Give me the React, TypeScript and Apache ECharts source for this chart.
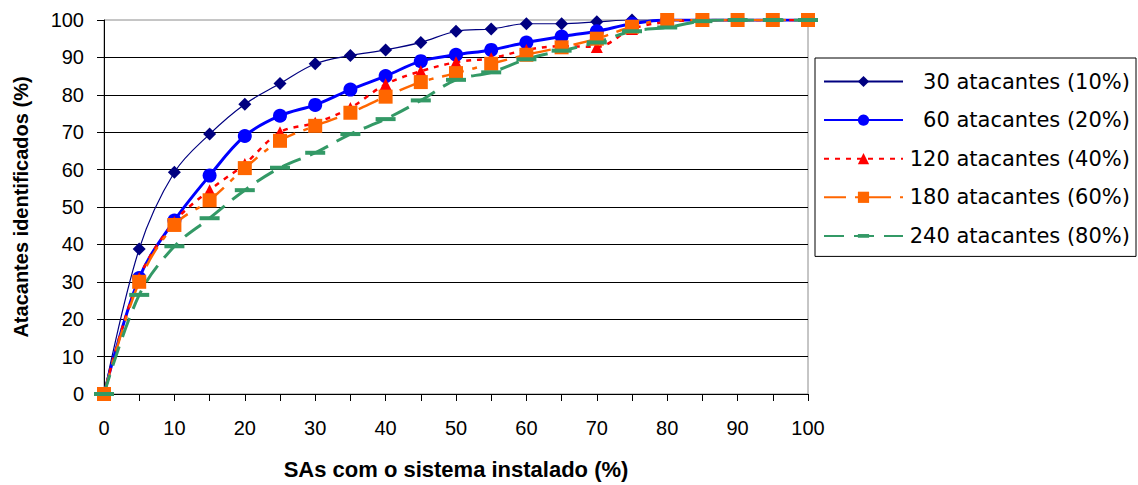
import React, { useEffect, useRef } from "react";
import * as echarts from "echarts";

// Share of SAs with the system installed (%)
const installedPct = [0, 5, 10, 15, 20, 25, 30, 35, 40, 45, 50, 55, 60, 65, 70, 75, 80, 85, 90, 95, 100];

// Identified attackers (%) per scenario
const attackers30 = [0, 38.8, 59.3, 69.5, 77.5, 83, 88.3, 90.5, 92, 94, 97, 97.6, 99, 99, 99.5, 100, 100, 100, 100, 100, 100];
const attackers60 = [0, 31, 46.4, 58.4, 69, 74.4, 77.3, 81.4, 85, 89, 90.7, 92, 94, 95.6, 97, 99, 100, 100, 100, 100, 100];
const attackers120 = [0, 31, 46, 54.5, 61.5, 70, 72.5, 76.5, 82.8, 86.3, 88.7, 89.8, 92, 93, 92.8, 97.6, 99.5, 100, 100, 100, 100];
const attackers180 = [0, 30, 45.2, 51.8, 60.4, 67.7, 71.7, 75.2, 79.5, 83.4, 85.8, 88.3, 90.7, 92.7, 95, 98.2, 100, 100, 100, 100, 100];
const attackers240 = [0, 26.5, 39.5, 47, 54.5, 60.5, 64.5, 69.5, 73.5, 78.5, 84, 86, 89.5, 91.8, 94, 97, 98, 99.7, 100, 100, 100];

const seriesNames = [
  "30 atacantes (10%)",
  "60 atacantes (20%)",
  "120 atacantes (40%)",
  "180 atacantes (60%)",
  "240 atacantes (80%)",
];

const yTicks = { min: 0, max: 100, interval: 10 };
const xTicks = { min: 0, max: 100, interval: 5, labelEvery: 10 };

const pairs = (ys: number[]) => installedPct.map((x, i) => [x, ys[i]]);

const FONT = "'Liberation Sans', Arial, sans-serif";

// flat horizontal bar ("dash") marker; the lone move-tos pad its box so the
// bar keeps its flat shape when squeezed into the square legend slot
const DASH_MARKER = "path://M0,0M0,4H20V8H0ZM20,12";

export default function App() {
  const ref = useRef<HTMLDivElement>(null);

  useEffect(() => {
    if (!ref.current) return;
    const chart = echarts.init(ref.current, undefined, { renderer: "svg" });

    const smooth = 0.35;

    chart.setOption({
      animation: false,
      backgroundColor: "#ffffff",
      grid: {
        left: 104,
        right: 330,
        top: 20,
        bottom: 88,
        show: true,
        borderColor: "#8c8c8c",
        borderWidth: 1,
        backgroundColor: "transparent",
      },
      xAxis: {
        type: "value",
        min: xTicks.min,
        max: xTicks.max,
        interval: xTicks.interval,
        name: "SAs com o sistema instalado (%)",
        nameLocation: "middle",
        nameGap: 64,
        nameTextStyle: { fontFamily: FONT, fontWeight: "bold", fontSize: 22, color: "#000" },
        axisLine: { show: true, onZero: false, lineStyle: { color: "#000", width: 1 } },
        axisTick: { show: true, length: 7, lineStyle: { color: "#000" } },
        axisLabel: {
          margin: 24,
          fontFamily: FONT,
          fontSize: 20,
          color: "#000",
          formatter: (v: number) => (v % xTicks.labelEvery === 0 ? String(v) : ""),
        },
        splitLine: { show: false },
      },
      yAxis: {
        type: "value",
        min: yTicks.min,
        max: yTicks.max,
        interval: yTicks.interval,
        name: "Atacantes identificados (%)",
        nameLocation: "middle",
        nameGap: 73,
        nameTextStyle: { fontFamily: FONT, fontWeight: "bold", fontSize: 20, color: "#000" },
        axisLine: { show: true, onZero: false, lineStyle: { color: "#000", width: 1 } },
        axisTick: { show: true, length: 7, lineStyle: { color: "#000" } },
        axisLabel: { margin: 20, fontFamily: FONT, fontSize: 20, color: "#000" },
        splitLine: { show: true, showMaxLine: false, lineStyle: { color: "#000", width: 1 } },
      },
      legend: {
        left: 815,
        top: 58,
        orient: "vertical",
        backgroundColor: "#ffffff",
        borderColor: "#000",
        borderWidth: 1,
        padding: [13, 6, 10, 8],
        itemWidth: 79,
        itemHeight: 14,
        itemGap: 17.6,
        itemTextGap: 4,
        data: seriesNames,
        formatter: (name: string) => `{t|${name}}`,
        textStyle: {
          color: "#000",
          rich: {
            t: { width: 222, align: "right", fontFamily: "'DejaVu Sans', sans-serif", fontSize: 21, color: "#000" },
          },
        },
      },
      series: [
        {
          name: seriesNames[0],
          type: "line",
          data: pairs(attackers30),
          smooth,
          symbol: "diamond",
          symbolSize: 13,
          itemStyle: { color: "#000080" },
          lineStyle: { color: "#000080", width: 1.2 },
        },
        {
          name: seriesNames[1],
          type: "line",
          data: pairs(attackers60),
          smooth,
          symbol: "circle",
          symbolSize: 14,
          itemStyle: { color: "#0000ff" },
          lineStyle: { color: "#0000ff", width: 3 },
        },
        {
          name: seriesNames[2],
          type: "line",
          data: pairs(attackers120),
          smooth,
          symbol: "triangle",
          symbolSize: 12,
          itemStyle: { color: "#ff0000" },
          lineStyle: { color: "#ff0000", width: 2.5, type: [5, 6] },
        },
        {
          name: seriesNames[3],
          type: "line",
          data: pairs(attackers180),
          smooth,
          symbol: "rect",
          symbolSize: 14,
          itemStyle: { color: "#ff6600" },
          lineStyle: { color: "#ff6600", width: 2.5, type: [22, 9, 5, 9] },
        },
        {
          name: seriesNames[4],
          type: "line",
          data: pairs(attackers240),
          smooth,
          symbol: DASH_MARKER,
          symbolSize: [20, 12],
          itemStyle: { color: "#339966" },
          lineStyle: { color: "#339966", width: 3, type: [20, 10] },
        },
      ],
    });

    return () => chart.dispose();
  }, []);

  return (
    <div
      ref={ref}
      style={{ position: "fixed", left: 0, top: 0, width: 1138, height: 485, background: "#fff" }}
    />
  );
}
